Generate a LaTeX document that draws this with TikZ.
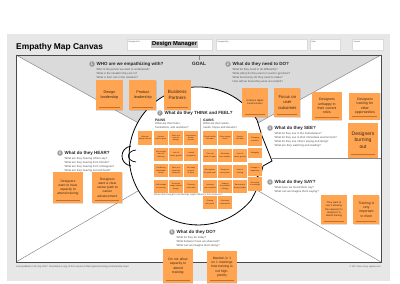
\documentclass[tikz,border=0pt]{standalone}
\usepackage{fontspec}
\setmainfont{Liberation Sans}
\usepackage{tikz}
\usetikzlibrary{positioning,shadows}
\usepackage{xcolor}
\definecolor{panelgray}{HTML}{E7E7E7}
\definecolor{topgray}{HTML}{DADADA}
\definecolor{linegray}{HTML}{8A8A8A}
\definecolor{framegray}{HTML}{4A4A4A}
\definecolor{numgray}{HTML}{9A9A9A}
\definecolor{stickyorange}{HTML}{FFA552}
\definecolor{stickyshade}{HTML}{C8702A}
\definecolor{stickyink}{HTML}{3A2616}
\definecolor{inkgray}{HTML}{555555}
\tikzset{
  sticky/.style={
    fill=stickyorange,
    text=stickyink,
    align=center,
    inner sep=1pt,
    drop shadow={shadow xshift=0.3pt, shadow yshift=-0.6pt, opacity=0.25},
    path picture={
      \draw[stickyshade, line width=1pt]
        ([xshift=3pt,yshift=3pt]path picture bounding box.south west) --
        ([xshift=-3pt,yshift=3pt]path picture bounding box.south east);
    }
  },
  tinysticky/.style={
    fill=stickyorange,
    text=stickyink,
    align=center,
    inner sep=0.5pt,
    minimum width=13.5pt,
    minimum height=13.5pt,
    text width=12pt,
    font=\fontsize{1.9}{2.4}\selectfont
  },
  fieldbox/.style={
    draw=panelgray!70!black!40,
    fill=white,
    minimum height=11pt,
    inner sep=0
  },
  fieldlabel/.style={
    anchor=north west,
    inner sep=0,
    text=inkgray,
    font=\fontsize{2}{2.4}\itshape
  },
  numdot/.style={
    circle,
    fill=numgray,
    text=white,
    inner sep=0,
    minimum size=5.5pt,
    font=\fontsize{3.6}{4}\selectfont\bfseries
  },
  question/.style={
    inner sep=0,
    text=black!85,
    font=\fontsize{4.5}{5}\selectfont\bfseries
  },
  subtext/.style={
    inner sep=0,
    align=left,
    text=inkgray,
    font=\fontsize{2.8}{4}\selectfont
  },
  divider/.style={
    draw=linegray,
    line width=0.5pt
  },
  head/.style={
    draw=black,
    fill=white,
    line width=0.8pt
  }
}
\begin{document}
\begin{tikzpicture}[x=1pt,y=-1pt]
\useasboundingbox (0,0) rectangle (400,284);
% canvas background and header
\fill[panelgray] (7,34) rectangle (390,281);
\node[anchor=west, inner sep=0, font=\fontsize{8.4}{9}\selectfont\bfseries] (title) at (16,47) {Empathy Map Canvas};
\node[fieldbox, minimum width=85pt] (designedfor) at (169.5,44.5) {};
\node[fieldbox, minimum width=91pt] (designedby) at (261.5,44.5) {};
\node[fieldbox, minimum width=30pt] (date) at (325,44.5) {};
\node[fieldbox, minimum width=31pt] (version) at (367.5,44.5) {};
\node[fieldlabel] (forlabel) at ([shift={(1.5,2)}]designedfor.north west) {Designed for};
\node[fieldlabel] (bylabel) at ([shift={(1.5,2)}]designedby.north west) {Designed by};
\node[fieldlabel] (datelabel) at ([shift={(1.5,2)}]date.north west) {Date};
\node[fieldlabel] (versionlabel) at ([shift={(1.5,2)}]version.north west) {Version};
\node[fill=black!22, inner sep=0.8pt, font=\fontsize{5.8}{6}\selectfont\bfseries] (persona) at (174.5,44.5) {Design Manager};

% map frame
\coordinate (tl) at (16,55);
\coordinate (tr) at (381,55);
\coordinate (bl) at (16,262);
\coordinate (br) at (381,262);
\coordinate (mid) at (198,156);
\fill[white] (tl) rectangle (br);
\fill[topgray] (tl) -- (tr) -- (mid) -- cycle;
\draw[divider] (tl) -- (mid) -- (tr);
\draw[divider] (bl) -- (mid) -- (br);
\draw[divider] (199,55) -- (199,60);
\draw[draw=framegray, line width=0.8pt] (tl) rectangle (br);

% the head
\draw[head] (257,120) arc[start angle=-31.4, end angle=-320.3, radius=69]
  -- (258,187) -- (260,180) -- (257,177) -- (261,174) -- (263,166)
  -- (272,161) -- (262,136) -- cycle;
\draw[divider] (270.8,158) -- (381,158);
\draw[line width=0.8pt] (131,146) .. controls (119,148) and (119,164) .. (131,166);
\draw[line width=0.7pt] (136,150) .. controls (126,151) and (126,161) .. (136,162);
\draw[draw=black!25, line width=0.4pt] (200.5,118) -- (200.5,191);

% questions
\node[numdot] (n1) at (92,64) {1};
\node[question, right=1.5pt of n1] (who) {WHO are we empathizing with?};
\node[subtext, below right=1.5pt and 0pt of who.south west] (whosub) {Who is the person we want to understand?\\What is the situation they are in?\\What is their role in the situation?};
\node[question, font=\fontsize{4.8}{5}\selectfont\bfseries] (goal) at (199,64) {GOAL};
\node[numdot] (n2) at (228,64) {2};
\node[question, right=1.5pt of n2] (do) {What do they need to DO?};
\node[subtext, below right=1.5pt and 0pt of do.south west] (dosub) {What do they need to do differently?\\What job(s) do they want or need to get done?\\What decision(s) do they need to make?\\How will we know they were successful?};
\node[numdot] (n3) at (270,128) {3};
\node[question, right=1.5pt of n3] (see) {What do they SEE?};
\node[subtext, below right=1.5pt and 0pt of see.south west] (seesub) {What do they see in the marketplace?\\What do they see in their immediate environment?\\What do they see others saying and doing?\\What are they watching and reading?};
\node[numdot] (n4) at (270,182) {4};
\node[question, right=1.5pt of n4] (say) {What do they SAY?};
\node[subtext, below right=1.5pt and 0pt of say.south west] (saysub) {What have we heard them say?\\What can we imagine them saying?};
\node[numdot] (n5) at (172,232) {5};
\node[question, right=1.5pt of n5] (dodo) {What do they DO?};
\node[subtext, below right=1.5pt and 0pt of dodo.south west] (dodosub) {What do they do today?\\What behavior have we observed?\\What can we imagine them doing?};
\node[numdot] (n6) at (60,153) {6};
\node[question, right=1.5pt of n6] (hear) {What do they HEAR?};
\node[subtext, below right=1.5pt and 0pt of hear.south west] (hearsub) {What are they hearing others say?\\What are they hearing from friends?\\What are they hearing from colleagues?\\What are they hearing second-hand?};
\node[numdot] (n7) at (160,113) {7};
\node[question, right=1.5pt of n7] (think) {What do they THINK and FEEL?};
\node[question, anchor=west, font=\fontsize{3.4}{4}\selectfont\bfseries] (pains) at (155,120) {PAINS};
\node[subtext, below right=1pt and 0pt of pains.south west] (painsub) {What are their fears,\\frustrations, and anxieties?};
\node[question, anchor=west, font=\fontsize{3.4}{4}\selectfont\bfseries] (gains) at (203,120) {GAINS};
\node[subtext, below right=1pt and 0pt of gains.south west] (gainsub) {What are their wants,\\needs, hopes and dreams?};
\node[subtext, anchor=west, font=\fontsize{2.4}{3}\selectfont] (other) at (154,195) {What other thoughts and feelings might influence their behavior?};

% think and feel notes
\foreach \px/\py/\ptext [count=\i] in {
  145/138/Informal design rework, 161/138/Unclear path to grow, 176/138/Work not seen as design, 191/138/Inconsistent design process,
  161/154.5/Not enough time for learning, 176/154.5/Lack of career growth, 191/154.5/Limited recognition,
  161/170.5/Conflicting stakeholder needs, 176/170.5/Work not valued by business, 191/170.5/Too many projects at once,
  161/186.5/Little budget for training, 176/186.5/Decisions made without design, 191/186.5/Showing trend data}
  \node[tinysticky] (pain\i) at (\px,\py) {\ptext};
\foreach \px/\py/\ptext [count=\i] in {
  210/138/Growth within the team, 225/138/Clear design vision, 240/138/Seat at the table,
  210/155.5/Time set aside to learn, 225/155.5/Mentoring from leaders, 240/155.5/Lack of career growth,
  210/171.5/Recognition for good work, 225/171.5/Design at every level, 240/171.5/Lack of training,
  210/186.5/Learning new methods, 225/186.5/Shaping the product strategy, 240/186.5/Becoming a design leader,
  210/202.5/Sharing with peers, 225/202.5/Attending conferences}
  \node[tinysticky] (gain\i) at (\px,\py) {\ptext};
\node[tinysticky] (priorities) at (255,139.5) {Changing priorities};
\node[tinysticky, minimum height=10pt] (ambiguity) at (255,153) {Ambiguity};
\node[tinysticky] (leadchange) at (255,169.5) {Change in leadership};
\node[tinysticky] (meetings) at (255,184) {Not being in meetings};

% WHO notes
\node[sticky, minimum width=27pt, minimum height=30pt, text width=25pt, font=\fontsize{3.8}{4.6}\selectfont] (designlead) at (109.5,95) {Design\\leadership};
\node[sticky, minimum width=27pt, minimum height=30pt, text width=25pt, font=\fontsize{3.8}{4.6}\selectfont, right=6pt of designlead] (productlead) {Product\\leadership};
\node[sticky, minimum width=27pt, minimum height=30pt, text width=25pt, font=\fontsize{4.6}{5.8}\selectfont, right=7pt of productlead] (partners) {Business\\Partners};

% DO notes
\node[sticky, minimum width=26pt, minimum height=29pt, text width=24pt, font=\fontsize{2.4}{3}\selectfont] (digital) at (255,102.5) {Embrace digital\\transformation};
\node[sticky, minimum width=26pt, minimum height=29pt, text width=24pt, font=\fontsize{4.2}{5.2}\selectfont, right=6pt of digital] (outcomes) {Focus on\\user\\outcomes};
\node[sticky, minimum width=30pt, minimum height=28pt, text width=28pt, font=\fontsize{3.5}{4.4}\selectfont] (unhappy) at (327,106) {Designers\\unhappy in\\their current\\roles};
\node[sticky, minimum width=31pt, minimum height=27pt, text width=29pt, font=\fontsize{3.5}{4.4}\selectfont, right=7pt of unhappy] (looking) {Designers\\looking for\\other\\opportunities};
\node[sticky, minimum width=30pt, minimum height=35pt, text width=28pt, font=\fontsize{5}{6.3}\selectfont] (burnout) at (363,140) {Designers\\burning\\out};

% HEAR notes
\node[sticky, minimum width=30pt, minimum height=31pt, text width=28pt, font=\fontsize{3.3}{4.2}\selectfont] (capacity) at (68,187.5) {Designers\\want to have\\capacity to\\attend training};
\node[sticky, minimum width=30pt, minimum height=31pt, text width=28pt, font=\fontsize{3.3}{4.2}\selectfont, right=9pt of capacity] (career) {Designers\\want a clear\\career path to\\career\\advancement};

% SAY notes
\node[sticky, minimum width=26pt, minimum height=29pt, text width=24pt, font=\fontsize{2.5}{3.3}\selectfont] (allowing) at (334,209.5) {They want to\\see it allowing\\the capacity for\\designers to\\attend training};
\node[sticky, minimum width=26pt, minimum height=29pt, text width=24pt, font=\fontsize{3.4}{4.3}\selectfont, right=6pt of allowing] (important) {Training is\\very\\important\\to them};

% DO today notes
\node[sticky, minimum width=30pt, minimum height=34pt, text width=28pt, font=\fontsize{3.4}{4.3}\selectfont] (noallow) at (178,266) {Do not allow\\capacity to\\attend\\training};
\node[sticky, minimum width=30pt, minimum height=32pt, text width=28pt, font=\fontsize{3.3}{4.2}\selectfont] (mention) at (222,267) {Mention in 1\\on 1 meetings\\how training is\\not high-\\priority};

% footer
\node[anchor=west, inner sep=0, text=inkgray, font=\fontsize{2.4}{3}\selectfont] (updated) at (16,266.5) {Last updated on 16 July 2017. Download a copy of this canvas at http://gamestorming.com/empathy-map/};
\node[anchor=east, inner sep=0, text=inkgray, font=\fontsize{2.2}{3}\selectfont] (copyright) at (381,266.5) {© 2017 Dave Gray, xplaner.com};
\end{tikzpicture}
\end{document}
